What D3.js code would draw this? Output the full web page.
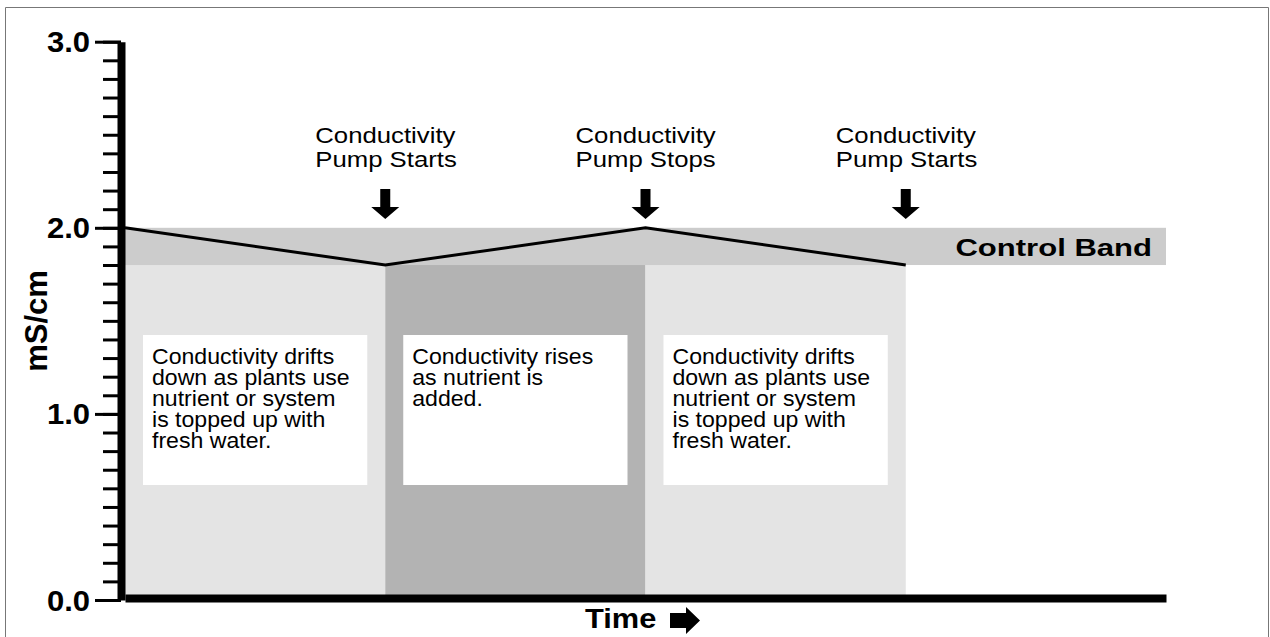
<!DOCTYPE html>
<html>
<head>
<meta charset="utf-8">
<script src="https://cdn.jsdelivr.net/npm/d3@7"></script>
<style>
  body { margin: 0; background: #fff; }
  text { font-family: "Liberation Sans", Arial, Helvetica, sans-serif; fill: #000; }
</style>
</head>
<body>
<div id="chart"></div>
<script>
// chart values
var timePoints = [0, 1, 2, 3];
var conductivity = [2.0, 1.8, 2.0, 1.8];
var bandLow = 1.8;
var bandHigh = 2.0;
var timeMax = 4;

var phaseStarts = [0, 1, 2];
var phaseEnds = [1, 2, 3];
var phaseKinds = ["drift", "rise", "drift"];
var phaseNotes = [
  ["Conductivity drifts", "down as plants use", "nutrient or system", "is topped up with", "fresh water."],
  ["Conductivity rises", "as nutrient is", "added."],
  ["Conductivity drifts", "down as plants use", "nutrient or system", "is topped up with", "fresh water."]
];

var eventTimes = [1, 2, 3];
var eventLabels = [
  ["Conductivity", "Pump Starts"],
  ["Conductivity", "Pump Stops"],
  ["Conductivity", "Pump Starts"]
];

var majorTicks = [0, 1, 2, 3];
var minorTicks = d3.range(0, 31).map(function(d) { return d / 10; });
var tickLabels = ["0.0", "1.0", "2.0", "3.0"];

var svgWidth = 1270;
var svgHeight = 637;

var svg = d3.select("#chart")
  .append("svg")
  .attr("width", svgWidth)
  .attr("height", svgHeight);

// frame
svg.append("path")
  .attr("d", "M5.5,640 V7.5 H1268.5 V640")
  .attr("fill", "none")
  .attr("stroke", "#777")
  .attr("stroke-width", 1);

var x = d3.scaleLinear().domain([0, timeMax]).range([125, 1166]);
var y = d3.scaleLinear().domain([0, 3]).range([600, 41.7]);

// stretched (multi-line) text helper
function label(parent, tx, ty, lines, size, sx, weight, anchor, lineH) {
  if (!Array.isArray(lines)) lines = [lines];
  var t = parent.append("g")
    .attr("transform", "translate(" + tx + "," + ty + ") scale(" + sx + ",1)")
    .append("text")
    .attr("font-size", size)
    .attr("font-weight", weight)
    .attr("text-anchor", anchor);
  lines.forEach(function(str, j) {
    t.append("tspan")
      .attr("x", 0)
      .attr("dy", j === 0 ? 0 : lineH)
      .text(str);
  });
  return t;
}

// phase shading
svg.selectAll(".phase")
  .data(phaseStarts)
  .enter()
  .append("rect")
  .attr("class", "phase")
  .attr("x", function(d) { return x(d); })
  .attr("width", function(d, i) { return x(phaseEnds[i]) - x(d); })
  .attr("y", y(bandLow))
  .attr("height", y(0) - y(bandLow))
  .attr("fill", function(d, i) { return phaseKinds[i] === "rise" ? "#b3b3b3" : "#e4e4e4"; });

// control band
svg.append("rect")
  .attr("x", x(0))
  .attr("width", x(timeMax) - x(0))
  .attr("y", y(bandHigh))
  .attr("height", y(bandLow) - y(bandHigh))
  .attr("fill", "#cccccc");

label(svg, x(timeMax) - 14, 256, "Control Band", 23, 1.35, "bold", "end");

// note boxes
phaseStarts.forEach(function(s, i) {
  var bx = x(s) + 18;
  var bw = x(phaseEnds[i]) - x(s) - 36;
  svg.append("rect")
    .attr("x", bx)
    .attr("y", 335)
    .attr("width", bw)
    .attr("height", 150)
    .attr("fill", "#fff");
  label(svg, bx + 9, 364, phaseNotes[i], 22, 1.05, "normal", "start", 21);
});

// conductivity line
var line = d3.line()
  .x(function(d, i) { return x(timePoints[i]); })
  .y(function(d) { return y(d); });

svg.append("path")
  .datum(conductivity)
  .attr("d", line)
  .attr("fill", "none")
  .attr("stroke", "#000")
  .attr("stroke-width", 3);

// event arrows and labels
eventTimes.forEach(function(t, i) {
  var cx = x(t);
  svg.append("path")
    .attr("d", "M" + (cx - 5) + ",189 H" + (cx + 5) + " V207 H" + (cx + 14) +
      " L" + cx + ",219 L" + (cx - 14) + ",207 H" + (cx - 5) + " Z")
    .attr("fill", "#000");
  label(svg, cx - 70, 143, eventLabels[i], 22, 1.17, "normal", "start", 24);
});

// y axis: minor ticks, then major ticks
var minorAxis = d3.axisLeft(y)
  .tickValues(minorTicks)
  .tickSize(18)
  .tickSizeOuter(0)
  .tickFormat("");

var majorAxis = d3.axisLeft(y)
  .tickValues(majorTicks)
  .tickSize(26)
  .tickSizeOuter(0)
  .tickFormat("");

var gMinor = svg.append("g")
  .attr("transform", "translate(121,0)")
  .call(minorAxis);
gMinor.select(".domain").attr("stroke", "#000").attr("stroke-width", 8);
gMinor.selectAll(".tick line").attr("stroke", "#000").attr("stroke-width", 3);

var gMajor = svg.append("g")
  .attr("transform", "translate(121,0)")
  .call(majorAxis);
gMajor.select(".domain").remove();
gMajor.selectAll(".tick line").attr("stroke", "#000").attr("stroke-width", 3);

majorTicks.forEach(function(v, i) {
  label(svg, 90, y(v) + 10.5, tickLabels[i], 29, 1.07, "bold", "end");
});

// x axis
var xAxis = d3.axisBottom(x)
  .tickValues([])
  .tickSizeOuter(0);

var gX = svg.append("g")
  .attr("transform", "translate(0,598)")
  .call(xAxis);
gX.select(".domain").attr("stroke", "#000").attr("stroke-width", 8);

// axis titles
svg.append("text")
  .attr("transform", "translate(47,321) rotate(-90)")
  .attr("text-anchor", "middle")
  .attr("font-size", 31)
  .attr("font-weight", "bold")
  .text("mS/cm");

label(svg, 585, 628, "Time", 28, 1.1, "bold", "start");
svg.append("path")
  .attr("d", "M670,613 H686 V607 L700,620.5 L686,634 V628 H670 Z")
  .attr("fill", "#000");
</script>
</body>
</html>
